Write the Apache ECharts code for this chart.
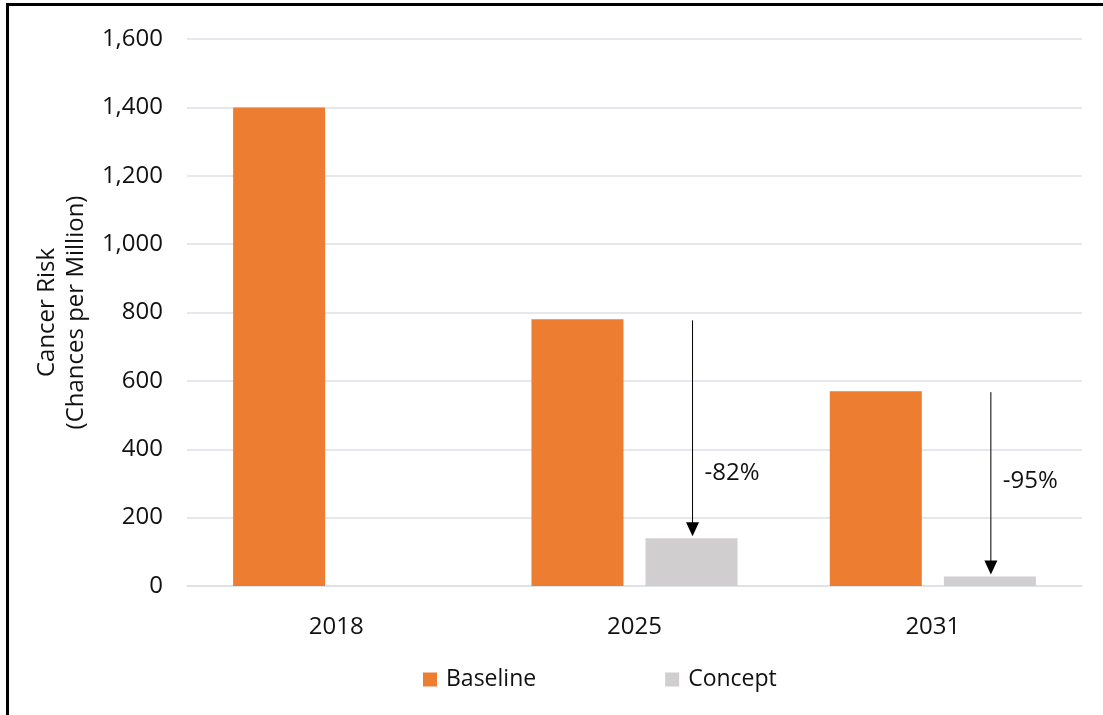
<!DOCTYPE html>
<html>
<head>
<meta charset="utf-8">
<script src="https://cdn.jsdelivr.net/npm/echarts@6/dist/echarts.min.js"></script>
<style>
  html, body { margin: 0; padding: 0; background: #fff; }
  #chart { width: 1103px; height: 715px; }
</style>
</head>
<body>
<div id="chart"></div>
<script>
// Modelled cancer risk by year, baseline vs. concept scenario
const years = ['2018', '2025', '2031'];
const baseline = [1400, 780, 570];
const concept = [null, 140, 28];
const yTicks = [0, 200, 400, 600, 800, 1000, 1200, 1400, 1600];

// Reduction arrows: year, from (baseline), to (concept), label
const arrowYears = ['2025', '2031'];
const arrowFrom = [780, 570];
const arrowTo = [140, 28];
const arrowLabels = ['-82%', '-95%'];

const FONT = 'Open Sans';
const TEXT = '#111111';
const GRID = '#dde1e6';
const BAR_W = 92;
const BAR_GAP = 0.24;
// where each percentage label sits on its arrow (0 = bottom, 1 = top)
const labelFrac = [0.29, 0.51];

const chart = echarts.init(document.getElementById('chart'), null, { renderer: 'canvas' });

const arrowData = arrowYears.map((y, i) => [y, arrowFrom[i], arrowTo[i], i]);

chart.setOption({
  animation: false,
  textStyle: { fontFamily: FONT },
  graphic: [{
    type: 'rect',
    shape: { x: 7.5, y: 4.5, width: 1200, height: 800 },
    style: { fill: 'none', stroke: '#000', lineWidth: 3 },
    silent: true
  }],
  grid: { left: 187, right: 21, top: 39, bottom: 129 },
  legend: {
    top: 668,
    left: 423,
    padding: 0,
    itemWidth: 14,
    itemHeight: 14,
    itemGap: 129,
    icon: 'rect',
    textStyle: { fontFamily: FONT, fontSize: 23, color: TEXT, padding: [0, 0, 0, 4] },
    data: ['Baseline', 'Concept']
  },
  xAxis: {
    type: 'category',
    data: years,
    axisTick: { show: false },
    axisLine: { lineStyle: { color: GRID, width: 1.5 } },
    axisLabel: { fontFamily: FONT, fontSize: 24, color: TEXT, margin: 29 }
  },
  yAxis: {
    type: 'value',
    min: yTicks[0],
    max: yTicks[yTicks.length - 1],
    interval: 200,
    name: 'Cancer Risk\n(Chances per Million)',
    nameLocation: 'middle',
    nameRotate: 90,
    nameGap: 92,
    nameTextStyle: { fontFamily: FONT, fontSize: 24, color: TEXT, lineHeight: 29 },
    axisLine: { show: false },
    axisTick: { show: false },
    splitLine: { lineStyle: { color: GRID, width: 1.5 } },
    axisLabel: {
      fontFamily: FONT, fontSize: 24, color: TEXT, margin: 24,
      formatter: v => v.toLocaleString('en-US')
    }
  },
  series: [
    {
      name: 'Baseline',
      type: 'bar',
      data: baseline,
      barWidth: BAR_W,
      barGap: (BAR_GAP * 100) + '%',
      itemStyle: { color: '#ED7D31' }
    },
    {
      name: 'Concept',
      type: 'bar',
      data: concept,
      barWidth: BAR_W,
      itemStyle: { color: '#D0CECE' }
    },
    {
      name: 'arrows',
      type: 'custom',
      silent: true,
      data: arrowData,
      encode: { x: 0, y: [1, 2] },
      z: 5,
      renderItem: function (params, api) {
        const idx = api.value(3);
        const top = api.coord([api.value(0), api.value(1)]);
        const bot = api.coord([api.value(0), api.value(2)]);
        // the concept bar sits to the right of the category centre
        const x = top[0] + (BAR_W + BAR_W * BAR_GAP) / 2 + 1;
        const y1 = top[1] + 1;
        const y2 = bot[1] - 2;
        const headH = 14, headW = 13;
        const ly = y2 + (y1 - y2) * labelFrac[idx];
        return {
          type: 'group',
          children: [
            { type: 'line', shape: { x1: x, y1: y1, x2: x, y2: y2 - headH + 1 },
              style: { stroke: '#000', lineWidth: 1 } },
            { type: 'polygon', shape: { points: [[x - headW / 2, y2 - headH], [x + headW / 2, y2 - headH], [x, y2]] },
              style: { fill: '#000' } },
            { type: 'text', x: x + 12, y: ly,
              style: { text: arrowLabels[idx], fontFamily: FONT, fontSize: 24, fill: TEXT,
                       textAlign: 'left', textVerticalAlign: 'middle' } }
          ]
        };
      }
    }
  ]
});
</script>
</body>
</html>
